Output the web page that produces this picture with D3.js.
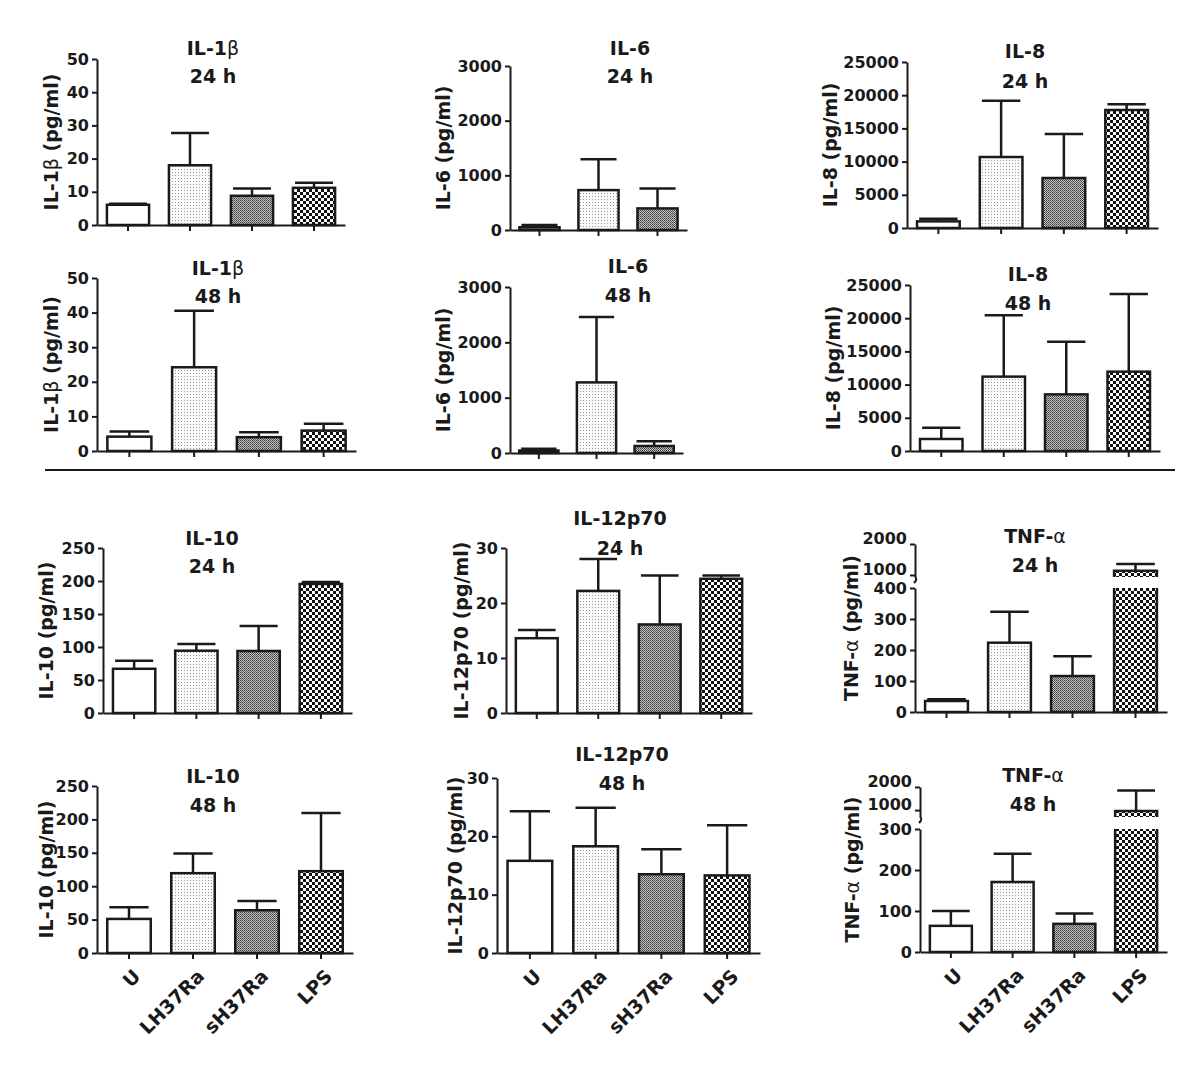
<!DOCTYPE html>
<html><head><meta charset="utf-8">
<script src="https://cdn.jsdelivr.net/npm/d3@7"></script>
<style>
body{margin:0;background:#fff}
text{font-family:"DejaVu Sans",sans-serif;font-weight:bold;fill:#1a1a1a}
</style>
</head><body>
<svg id="c" width="1200" height="1069"></svg>
<script>
// ---------- DATA ----------
const categories = ["U", "LH37Ra", "sH37Ra", "LPS"];
const il6Categories = ["U", "LH37Ra", "sH37Ra"];

const il1b24Mean = [6.1, 18.0, 8.8, 11.2];
const il1b24Err  = [0.3, 9.7, 2.2, 1.5];
const il6_24Mean = [50, 730, 395];
const il6_24Err  = [40, 566, 365];
const il8_24Mean = [1000, 10690, 7530, 17770];
const il8_24Err  = [400, 8490, 6630, 850];

const il1b48Mean = [4.15, 24.2, 4.0, 5.9];
const il1b48Err  = [1.45, 16.3, 1.4, 2.0];
const il6_48Mean = [45, 1276, 127];
const il6_48Err  = [30, 1180, 85];
const il8_48Mean = [1810, 11200, 8530, 11950];
const il8_48Err  = [1700, 9230, 7930, 11700];

const il10_24Mean = [67, 94.4, 94, 195.5];
const il10_24Err  = [12, 10, 38, 3];
const il12_24Mean = [13.6, 22.2, 16.1, 24.4];
const il12_24Err  = [1.5, 5.8, 8.9, 0.6];
const tnf24Mean   = [35.5, 223.6, 116, 1140];
const tnf24Err    = [5.5, 100, 64, 215];

const il10_48Mean = [51, 119.5, 64, 122.5];
const il10_48Err  = [17.5, 29.5, 14, 87];
const il12_48Mean = [15.8, 18.3, 13.5, 13.3];
const il12_48Err  = [8.5, 6.6, 4.3, 8.6];
const tnf48Mean   = [63.8, 170.8, 68.7, 960];
const tnf48Err    = [36, 68.7, 25.3, 890];

const il1bTicks = [0, 10, 20, 30, 40, 50];
const il6Ticks  = [0, 1000, 2000, 3000];
const il8Ticks  = [0, 5000, 10000, 15000, 20000, 25000];
const il10Ticks = [0, 50, 100, 150, 200, 250];
const il12Ticks = [0, 10, 20, 30];
const tnf24LowTicks = [0, 100, 200, 300, 400];
const tnf48LowTicks = [0, 100, 200, 300];
const tnfUpTicks = [1000, 2000];
const tnf24UpDomain = [935, 2000];
const tnf48UpDomain = [700, 2000];

// ---------- LAYOUT ----------
const panels = [
  {name:"IL-1", greek:"β", time:"24 h", cats:categories, mean:il1b24Mean, err:il1b24Err, ticks:il1bTicks,
   x0:97, x1:345, yTop:59, y0:225, tx:213, t1:55, t2:83, lx:58},
  {name:"IL-6", time:"24 h", cats:il6Categories, mean:il6_24Mean, err:il6_24Err, ticks:il6Ticks,
   x0:510, x1:687, yTop:66, y0:230, tx:630, t1:55, t2:83, lx:450},
  {name:"IL-8", time:"24 h", cats:categories, mean:il8_24Mean, err:il8_24Err, ticks:il8Ticks,
   x0:907, x1:1158, yTop:62, y0:228, tx:1025, t1:58, t2:88, lx:837},
  {name:"IL-1", greek:"β", time:"48 h", cats:categories, mean:il1b48Mean, err:il1b48Err, ticks:il1bTicks,
   x0:97, x1:356, yTop:278, y0:451, tx:218, t1:275, t2:303, lx:58},
  {name:"IL-6", time:"48 h", cats:il6Categories, mean:il6_48Mean, err:il6_48Err, ticks:il6Ticks,
   x0:510, x1:683, yTop:287, y0:453, tx:628, t1:273, t2:302, lx:450},
  {name:"IL-8", time:"48 h", cats:categories, mean:il8_48Mean, err:il8_48Err, ticks:il8Ticks,
   x0:910, x1:1160, yTop:285, y0:451, tx:1028, t1:281, t2:310, lx:840},
  {name:"IL-10", time:"24 h", cats:categories, mean:il10_24Mean, err:il10_24Err, ticks:il10Ticks,
   x0:103, x1:352, yTop:548, y0:713, tx:212, t1:545, t2:573, lx:53},
  {name:"IL-12p70", time:"24 h", cats:categories, mean:il12_24Mean, err:il12_24Err, ticks:il12Ticks,
   x0:506, x1:752, yTop:548, y0:713, tx:620, t1:525, t2:555, lx:468},
  {name:"TNF-", greek:"α", time:"24 h", cats:categories, mean:tnf24Mean, err:tnf24Err, ticks:tnf24LowTicks,
   upTicks:tnfUpTicks, upDomain:tnf24UpDomain, upTop:544, upBottom:577,
   x0:915, x1:1167, yTop:588, y0:712, tx:1035, t1:543, t2:572, lx:858},
  {name:"IL-10", time:"48 h", cats:categories, mean:il10_48Mean, err:il10_48Err, ticks:il10Ticks,
   x0:97, x1:353, yTop:786, y0:953, tx:213, t1:783, t2:812, lx:53, labels:true},
  {name:"IL-12p70", time:"48 h", cats:categories, mean:il12_48Mean, err:il12_48Err, ticks:il12Ticks,
   x0:497, x1:760, yTop:778, y0:953, tx:622, t1:761, t2:790, lx:462, labels:true},
  {name:"TNF-", greek:"α", time:"48 h", cats:categories, mean:tnf48Mean, err:tnf48Err, ticks:tnf48LowTicks,
   upTicks:tnfUpTicks, upDomain:tnf48UpDomain, upTop:787, upBottom:817,
   x0:920, x1:1167, yTop:829, y0:952, tx:1033, t1:782, t2:811, lx:859, labels:true}
];

const svg = d3.select("#c");
const defs = svg.append("defs");

// patterns
(function(){
  let p = defs.append("pattern").attr("id","pLH").attr("patternUnits","userSpaceOnUse").attr("width",3).attr("height",3);
  p.append("rect").attr("width",3).attr("height",3).attr("fill","#fafafa");
  p.append("rect").attr("x",1).attr("y",1).attr("width",1).attr("height",1).attr("fill","#9a9a9a");
  p = defs.append("pattern").attr("id","pSH").attr("patternUnits","userSpaceOnUse").attr("width",2).attr("height",2);
  p.append("rect").attr("width",2).attr("height",2).attr("fill","#c4c4c4");
  p.append("rect").attr("width",1).attr("height",1).attr("fill","#3c3c3c");
  p.append("rect").attr("x",1).attr("y",1).attr("width",1).attr("height",1).attr("fill","#5a5a5a");
  p = defs.append("pattern").attr("id","pLPS").attr("patternUnits","userSpaceOnUse").attr("width",6).attr("height",6);
  p.append("rect").attr("width",6).attr("height",6).attr("fill","#fff");
  p.append("rect").attr("width",3).attr("height",3).attr("fill","#111");
  p.append("rect").attr("x",3).attr("y",3).attr("width",3).attr("height",3).attr("fill","#111");
})();
const fills = {"U":"#fff","LH37Ra":"url(#pLH)","sH37Ra":"url(#pSH)","LPS":"url(#pLPS)"};

const INK = "#1a1a1a";

function styleAxis(g, fs) {
  g.selectAll(".domain").attr("stroke", INK).attr("stroke-width", 2);
  g.selectAll(".tick line").attr("stroke", INK).attr("stroke-width", 2);
  g.selectAll(".tick text").attr("font-size", fs).attr("font-family", '"DejaVu Sans",sans-serif')
    .attr("font-weight","bold").attr("fill", INK);
}

function drawPanel(p) {
  const g = svg.append("g");
  const x = d3.scaleBand().domain(p.cats).range([p.x0, p.x1]).paddingInner(0.32).paddingOuter(0.16);
  const lowMax = p.ticks[p.ticks.length-1];
  const y = d3.scaleLinear().domain([0, lowMax]).range([p.y0, p.yTop]);
  const broken = !!p.upDomain;
  const yu = broken ? d3.scaleLinear().domain(p.upDomain).range([p.upBottom, p.upTop]) : null;
  const bw = x.bandwidth();

  // bars
  p.cats.forEach((c, i) => {
    const v = p.mean[i], e = p.err[i];
    const bx = x(c);
    if (broken && v > lowMax) {
      g.append("rect").attr("x", bx).attr("y", p.yTop).attr("width", bw).attr("height", p.y0 - p.yTop).attr("fill", fills[c]);
      g.append("path").attr("d", `M${bx},${p.yTop}V${p.y0}H${bx+bw}V${p.yTop}`)
        .attr("fill","none").attr("stroke", INK).attr("stroke-width", 2.5);
      const ty = yu(v);
      g.append("rect").attr("x", bx).attr("y", ty).attr("width", bw).attr("height", p.upBottom - ty).attr("fill", fills[c]);
      g.append("path").attr("d", `M${bx},${p.upBottom}V${ty}H${bx+bw}V${p.upBottom}`)
        .attr("fill","none").attr("stroke", INK).attr("stroke-width", 2.5);
      const ey = yu(v + e);
      g.append("line").attr("x1", bx+bw/2).attr("x2", bx+bw/2).attr("y1", ty).attr("y2", ey).attr("stroke", INK).attr("stroke-width", 2.5);
      g.append("line").attr("x1", bx+bw*0.05).attr("x2", bx+bw*0.95).attr("y1", ey).attr("y2", ey).attr("stroke", INK).attr("stroke-width", 2.5);
    } else {
      const ty = y(v), ey = y(v + e);
      g.append("line").attr("x1", bx+bw/2).attr("x2", bx+bw/2).attr("y1", ty).attr("y2", ey).attr("stroke", INK).attr("stroke-width", 2.5);
      g.append("line").attr("x1", bx+bw*0.05).attr("x2", bx+bw*0.95).attr("y1", ey).attr("y2", ey).attr("stroke", INK).attr("stroke-width", 2.5);
      g.append("rect").attr("x", bx).attr("y", ty).attr("width", bw).attr("height", p.y0 - ty)
        .attr("fill", fills[c]).attr("stroke", INK).attr("stroke-width", 2.5);
    }
  });

  // y axis
  const ya = g.append("g").attr("transform", `translate(${p.x0},0)`)
    .call(d3.axisLeft(y).tickValues(p.ticks).tickFormat(d3.format("d")).tickSize(5).tickSizeOuter(0).tickPadding(3));
  styleAxis(ya, 16);
  if (broken) {
    const yb = g.append("g").attr("transform", `translate(${p.x0},0)`)
      .call(d3.axisLeft(yu).tickValues(p.upTicks).tickFormat(d3.format("d")).tickSize(5).tickSizeOuter(0).tickPadding(3));
    styleAxis(yb, 16);
    yb.selectAll(".tick text").attr("dy", "-0.03em");
    g.append("path").attr("d", `M${p.x0},${p.upBottom} q3,2 -1,6`).attr("fill","none").attr("stroke", INK).attr("stroke-width", 2);
  }

  // x axis
  const xa = g.append("g").attr("transform", `translate(0,${p.y0})`)
    .call(d3.axisBottom(x).tickSize(6).tickSizeOuter(0).tickFormat(p.labels ? (d=>d) : ""));
  styleAxis(xa, 19);
  if (p.labels) {
    xa.selectAll(".tick text")
      .attr("text-anchor","end").attr("x", 0).attr("y", 0).attr("dy","0.71em")
      .attr("transform","translate(3,15) rotate(-45)");
  }

  // title
  const t = g.append("text").attr("x", p.tx).attr("y", p.t1).attr("text-anchor","middle").attr("font-size", 19);
  t.append("tspan").text(p.name);
  if (p.greek) t.append("tspan").attr("font-weight","normal").text(p.greek);
  g.append("text").attr("x", p.tx).attr("y", p.t2).attr("text-anchor","middle").attr("font-size", 19).text(p.time);

  // y label
  const yc = broken ? (p.upTop + p.y0)/2 : (p.yTop + p.y0)/2;
  const yl = g.append("text").attr("transform", `translate(${p.lx},${yc}) rotate(-90)`)
    .attr("text-anchor","middle").attr("font-size", 19);
  yl.append("tspan").text(p.name);
  if (p.greek) yl.append("tspan").attr("font-weight","normal").text(p.greek);
  yl.append("tspan").text(" (pg/ml)");
}

panels.forEach(drawPanel);

// divider line between the two groups
svg.append("line").attr("x1", 45).attr("x2", 1175).attr("y1", 470).attr("y2", 470)
  .attr("stroke", INK).attr("stroke-width", 2);
</script>
</body></html>
